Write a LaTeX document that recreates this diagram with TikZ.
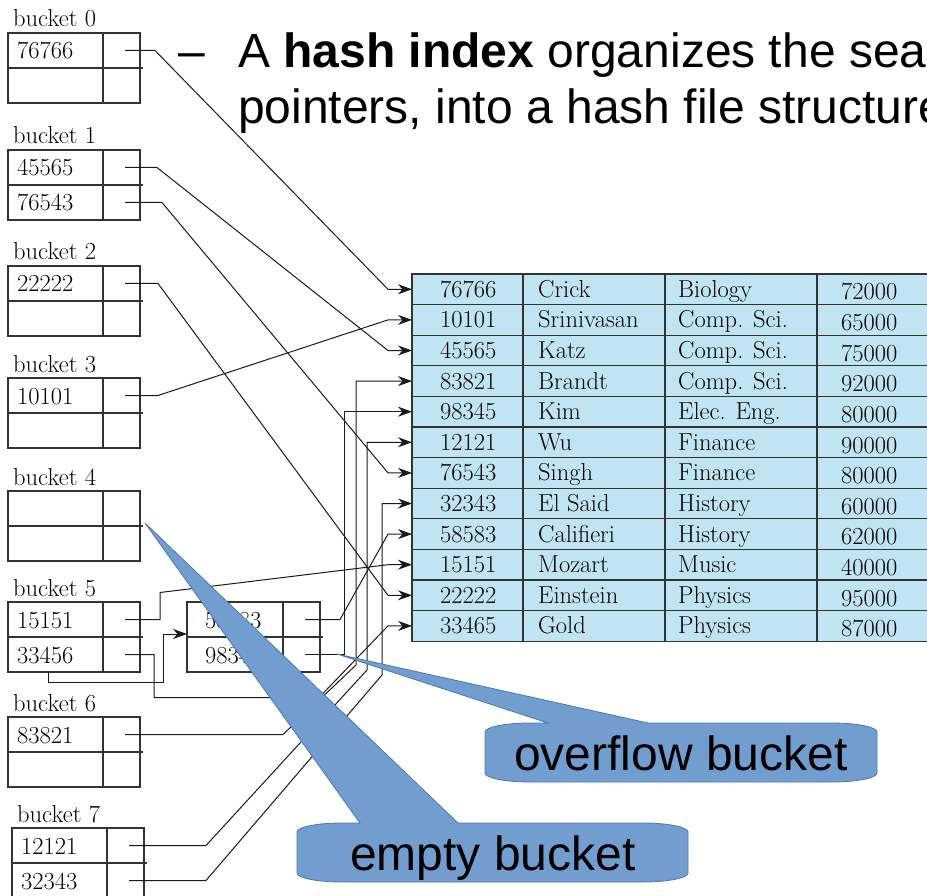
\documentclass[tikz,border=0pt]{standalone}
\usepackage{fontspec}
\newfontfamily\arialfont{Liberation Sans}
\usetikzlibrary{arrows.meta}
\definecolor{colorRec}{HTML}{C0E4F1}
\definecolor{colorCall}{HTML}{729ECF}
\definecolor{colorCallEdge}{HTML}{4A78B8}
\definecolor{colorLine}{HTML}{1A1A1A}

\tikzset{
  box/.style={draw=black!80, line width=1.3pt},
  ptr/.style={draw=colorLine, line width=1pt},
  ptrarrow/.style={ptr, -{Stealth[length=14pt,width=10pt]}},
  serif/.style={font=\fontsize{24.5}{28}\selectfont, inner sep=0pt, anchor=base west},
  sans/.style={font=\arialfont\fontsize{48}{56}\selectfont, inner sep=0pt, anchor=base west},
  callout/.style={fill=colorCall, draw=colorCallEdge, line width=0.8pt},
}

\begin{document}
\begin{tikzpicture}[x=1pt, y=-1pt]
        \useasboundingbox (0,0) rectangle (927,896);
        \clip (0,0) rectangle (927,896);

        % records
        \foreach \id/\name/\dept/\sal [count=\i] in {76766/Crick/Biology/72000, 10101/Srinivasan/Comp. Sci./65000, 45565/Katz/Comp. Sci./75000, 83821/Brandt/Comp. Sci./92000, 98345/Kim/Elec. Eng./80000, 12121/Wu/Finance/90000, 76543/Singh/Finance/80000, 32343/El Said/History/60000, 58583/Califieri/History/62000, 15151/Mozart/Music/40000, 22222/Einstein/Physics/95000, 33465/Gold/Physics/87000}{
            \pgfmathsetmacro{\ry}{274+(\i-1)*30.6}
            \filldraw[fill=colorRec, draw=black!80, line width=1.1pt] (412,\ry) rectangle (940,\ry+30.6);
            \node[serif] (id\i) at (440,\ry+23.3) {\id};
            \node[serif] (name\i) at (538,\ry+23.3) {\name};
            \node[serif] (dept\i) at (678,\ry+23.3) {\dept};
            \node[serif] (sal\i) at (841,\ry+26) {\sal};
            \coordinate (rec\i) at (412,\ry+15.3);
        }
        \foreach \cx in {523,665,817}
            \draw[draw=black!80, line width=1.1pt] (\cx,274) -- (\cx,641.2);

        % buckets
        \foreach \bx/\by/\n/\ka/\kb in {8/33/0/76766/{}, 8/150/1/45565/76543, 8/266/2/22222/{}, 8/378/3/10101/{}, 8/491/4/{}/{}, 8/602/5/15151/33456, 8/717/6/83821/{}, 12/828/7/12121/32343}{
            \begin{scope}[shift={(\bx,\by)}]
            \draw[box] (0,0) rectangle (132,70);
            \draw[box] (0,35) -- (135,35);
            \draw[box] (95,0) -- (95,70);
            \node[serif] (lab\n) at (5,-6) {bucket \n};
            \node[serif] (key\n-a) at (9,26) {\ka};
            \node[serif] (key\n-b) at (9,61) {\kb};
            \coordinate (p\n-a) at (117,17.5);
            \coordinate (p\n-b) at (117,52.5);
            \coordinate (p\n-bot) at (40,70);
            \end{scope}
        }

        % overflow bucket
        \begin{scope}[shift={(187,602)}]
            \draw[box] (0,0) rectangle (133,70);
            \draw[box] (0,35) -- (136,35);
            \draw[box] (96,0) -- (96,70);
            \node[serif] (ovf-a) at (18,26) {58583};
            \node[serif] (ovf-b) at (18,61) {98345};
            \coordinate (q-a) at (118,17.5);
            \coordinate (q-b) at (118,52.5);
            \coordinate (ovf-in) at (0,32);
        \end{scope}

        % pointers
        \draw[ptrarrow] (p0-a) -- ++(30,0) -- ([xshift=-24pt]rec1) -- (rec1);
        \draw[ptrarrow] (p1-a) -- ++(32,0) -- ([xshift=-24pt]rec3) -- (rec3);
        \draw[ptrarrow] (p1-b) -- ++(37,0) -- ([xshift=-24pt]rec7) -- (rec7);
        \draw[ptrarrow] (p2-a) -- ++(33,0) -- ([xshift=-24pt]rec11) -- (rec11);
        \draw[ptrarrow] (p3-a) -- ++(33,0) -- ([xshift=-24pt]rec2) -- (rec2);
        \draw[ptrarrow] (p5-a) -- ++(35,0) -- ++(0,-27) -- ([xshift=-24pt]rec10) -- (rec10);
        \draw[ptrarrow] (p5-b) -- ++(29,0) -- ++(0,43) -- ++(165,0) -- ([xshift=-24pt]rec12) -- (rec12);
        \draw[ptrarrow] (p5-bot) -- ++(0,10) -| ([xshift=-24pt]ovf-in) -- (ovf-in);
        \draw[ptrarrow] (q-a) -- ++(35,0) -- ([xshift=-24pt]rec9) -- (rec9);
        \draw[ptrarrow] (q-b) -- ++(39,0) |- (rec5);
        \draw[ptrarrow] (p6-a) -- (283,734.5) -- (356,665) |- (rec4);
        \draw[ptrarrow] (p7-a) -- (206,845.5) -- (367,670) |- (rec6);
        \draw[ptrarrow] (p7-b) -- (206,880.5) -- (382,675) |- (rec8);

        % callouts
        \path[callout] (530,723) -- (548,723) -- (337,654) -- (648,723) -- (832,723)
            arc[start angle=270, end angle=360, x radius=45, y radius=9] -- (877,773)
            arc[start angle=0, end angle=90, x radius=45, y radius=9] -- (530,782)
            arc[start angle=90, end angle=180, x radius=45, y radius=9] -- (485,732)
            arc[start angle=180, end angle=270, x radius=45, y radius=9] -- cycle;
        \node[sans, anchor=base] (ovftxt) at (681,770) {overflow bucket};

        \path[callout] (342,823) -- (360,823) -- (145,523) -- (458,823) -- (643,823)
            arc[start angle=270, end angle=360, x radius=45, y radius=9] -- (688,873)
            arc[start angle=0, end angle=90, x radius=45, y radius=9] -- (342,882)
            arc[start angle=90, end angle=180, x radius=45, y radius=9] -- (297,832)
            arc[start angle=180, end angle=270, x radius=45, y radius=9] -- cycle;
        \node[sans, anchor=base] (emptytxt) at (493,870) {empty bucket};

        % heading
        \node[sans] (dash) at (178,68) {\textendash};
        \node[sans] (head1) at (238,68) {A \textbf{hash index} organizes the sea};
        \node[sans] (head2) at (238,124) {pointers, into a hash file structure};
    \end{tikzpicture}
\end{document}
